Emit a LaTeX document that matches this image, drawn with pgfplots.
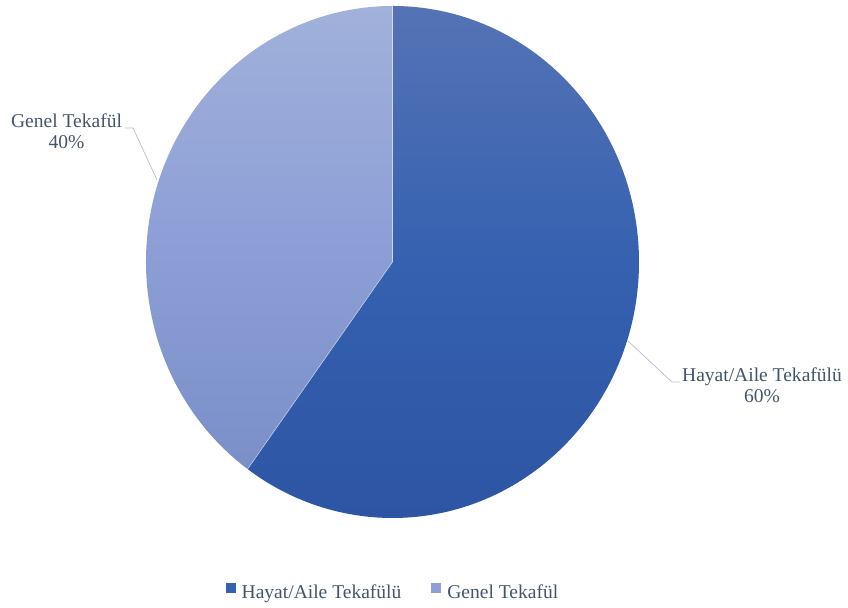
\documentclass[border=0pt]{standalone}
\usepackage{pgfplots}
\pgfplotsset{compat=1.18}
\usepackage{pgfplotstable}
\usepackage{fontspec}
\setmainfont{Liberation Serif}

% shares of the two segments (%)
\pgfplotstableread{
label value
Hayat 60
Genel 40
}\piedata

\definecolor{hayatTop}{HTML}{5573B5}
\definecolor{hayatMid}{HTML}{3561B0}
\definecolor{hayatBot}{HTML}{2D55A3}
\definecolor{genelTop}{HTML}{A1B1DB}
\definecolor{genelMid}{HTML}{8D9FD6}
\definecolor{genelBot}{HTML}{7A8FC8}
\definecolor{labelcol}{HTML}{44546A}
\definecolor{leadercol}{HTML}{B4BFCE}

\newcommand{\lblfont}{\fontsize{19.6}{23}\selectfont}

\begin{document}
\begin{tikzpicture}
\pgfplotstablegetelem{0}{value}\of\piedata \let\va\pgfplotsretval
\pgfplotstablegetelem{1}{value}\of\piedata \let\vb\pgfplotsretval
\pgfmathsetmacro{\aone}{90-3.6*\va}
\pgfmathsetmacro{\atwo}{\aone-3.6*\vb}
\pgfmathsetmacro{\bx}{cos(\aone)}
\pgfmathsetmacro{\by}{sin(\aone)}
\begin{axis}[
  x=246.5bp, y=256bp,
  xmin=-1.5923, xmax=1.8479, ymin=-1.3516, ymax=1.0234,
  hide axis, clip=false,
  legend columns=2,
  legend style={at={(rel axis cs:0.4634,0.0263)}, anchor=center,
    draw=none, fill=none, font=\lblfont, text=labelcol,
    /tikz/every even column/.append style={column sep=28bp},
    /tikz/every odd column/.append style={column sep=4bp}},
  legend image code/.code={\fill[#1, draw=none] (0bp,-1bp) rectangle (10bp,9bp);},
]
\addlegendimage{fill=hayatMid}
\addlegendentry{Hayat/Aile Tekafülü}
\addlegendimage{fill=genelMid}
\addlegendentry{Genel Tekafül}

\shade[top color=hayatTop, bottom color=hayatBot, middle color=hayatMid]
  (axis cs:0,0) -- (axis cs:0,1)
  arc[start angle=90, end angle=\aone, x radius=246.5bp, y radius=256bp] -- cycle;
\shade[top color=genelTop, bottom color=genelBot, middle color=genelMid]
  (axis cs:0,0) -- (axis cs:\bx,\by)
  arc[start angle=\aone, end angle=\atwo, x radius=246.5bp, y radius=256bp] -- cycle;
\draw[white, opacity=0.5, line width=0.6bp]
  (axis cs:0,1) -- (axis cs:0,0) -- (axis cs:\bx,\by);

% leader lines
\draw[leadercol, line width=0.7bp]
  (axis cs:-1.0852,0.5234) -- (axis cs:-1.0527,0.5234) -- (axis cs:-0.9554,0.3203);
\draw[leadercol, line width=0.7bp]
  (axis cs:0.9554,-0.3086) -- (axis cs:1.1339,-0.4688) -- (axis cs:1.1663,-0.4688);

% data labels
\node[anchor=base, font=\lblfont, text=labelcol, inner sep=0pt] at (axis cs:-1.3225,0.5234) {Genel Tekafül};
\node[anchor=base, font=\lblfont, text=labelcol, inner sep=0pt] at (axis cs:-1.3225,0.4414) {40\%};
\node[anchor=base, font=\lblfont, text=labelcol, inner sep=0pt] at (axis cs:1.499,-0.4688) {Hayat/Aile Tekafülü};
\node[anchor=base, font=\lblfont, text=labelcol, inner sep=0pt] at (axis cs:1.499,-0.5508) {60\%};

\path[use as bounding box] (rel axis cs:0,0) rectangle (rel axis cs:1,1);
\end{axis}
\end{tikzpicture}
\end{document}
